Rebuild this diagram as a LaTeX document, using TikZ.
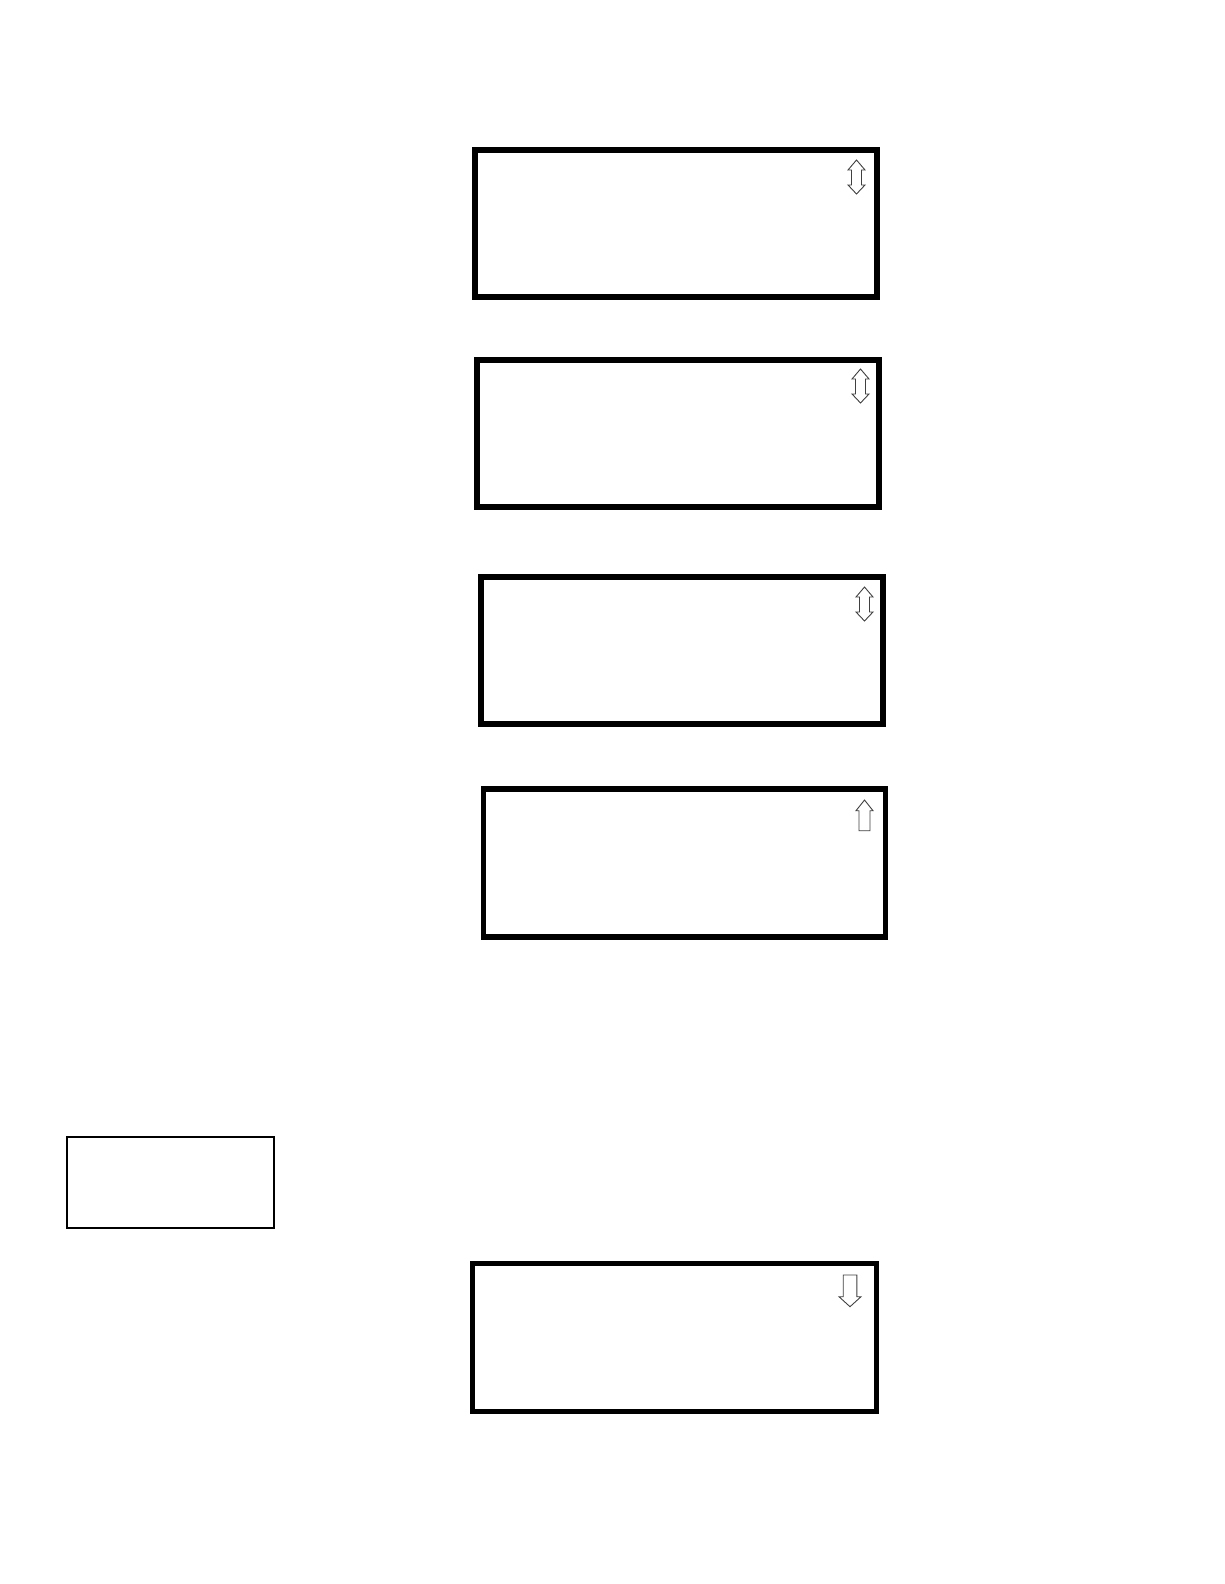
\documentclass[tikz,border=0pt]{standalone}
\tikzset{
  screen/.style={draw, line width=5.5pt, minimum width=402pt, minimum height=147pt, inner sep=0pt},
  keybox/.style={draw, line width=2.3pt, minimum width=207pt, minimum height=91pt, inner sep=0pt},
  scroll/.style={draw=black!75, line width=0.9pt, line join=miter}
}
\begin{document}
\begin{tikzpicture}[x=1pt, y=-1pt]
        \useasboundingbox[fill=white] (0,0) rectangle (1224,1584);
        \node[screen] (s1) at (676,223.5) {};
        \node[screen] (s2) at (678,433.5) {};
        \node[screen] (s3) at (682,650.5) {};
        \node[screen, minimum height=148pt] (s4) at (684.5,863) {};
        \node[screen, minimum width=404pt, minimum height=148pt] (s5) at (674.5,1337.5) {};
        \node[keybox] (key) at (170.75,1182.5) {};
        % scroll marks
        \draw[scroll, shift={(856.5,177)}] (0,-17) -- (8.5,-7) -- (5,-7) -- (5,8) -- (8.5,8) -- (0,17) -- (-8.5,8) -- (-5,8) -- (-5,-7) -- (-8.5,-7) -- cycle;
        \draw[scroll, shift={(860.5,386)}] (0,-17) -- (8.5,-7) -- (5,-7) -- (5,8) -- (8.5,8) -- (0,17) -- (-8.5,8) -- (-5,8) -- (-5,-7) -- (-8.5,-7) -- cycle;
        \draw[scroll, shift={(864.5,604)}] (0,-17) -- (8.5,-7) -- (5,-7) -- (5,8) -- (8.5,8) -- (0,17) -- (-8.5,8) -- (-5,8) -- (-5,-7) -- (-8.5,-7) -- cycle;
        \draw[scroll, shift={(864.5,800)}] (0,0) -- (8.5,10.7) -- (5.5,10.7) -- (5.5,30.7) -- (-5.5,30.7) -- (-5.5,10.7) -- (-8.5,10.7) -- cycle;
        \draw[scroll, shift={(850,1275)}] (-6.8,0) -- (6.8,0) -- (6.8,21.7) -- (11,21.7) -- (0,31.7) -- (-11,21.7) -- (-6.8,21.7) -- cycle;
    \end{tikzpicture}
\end{document}
